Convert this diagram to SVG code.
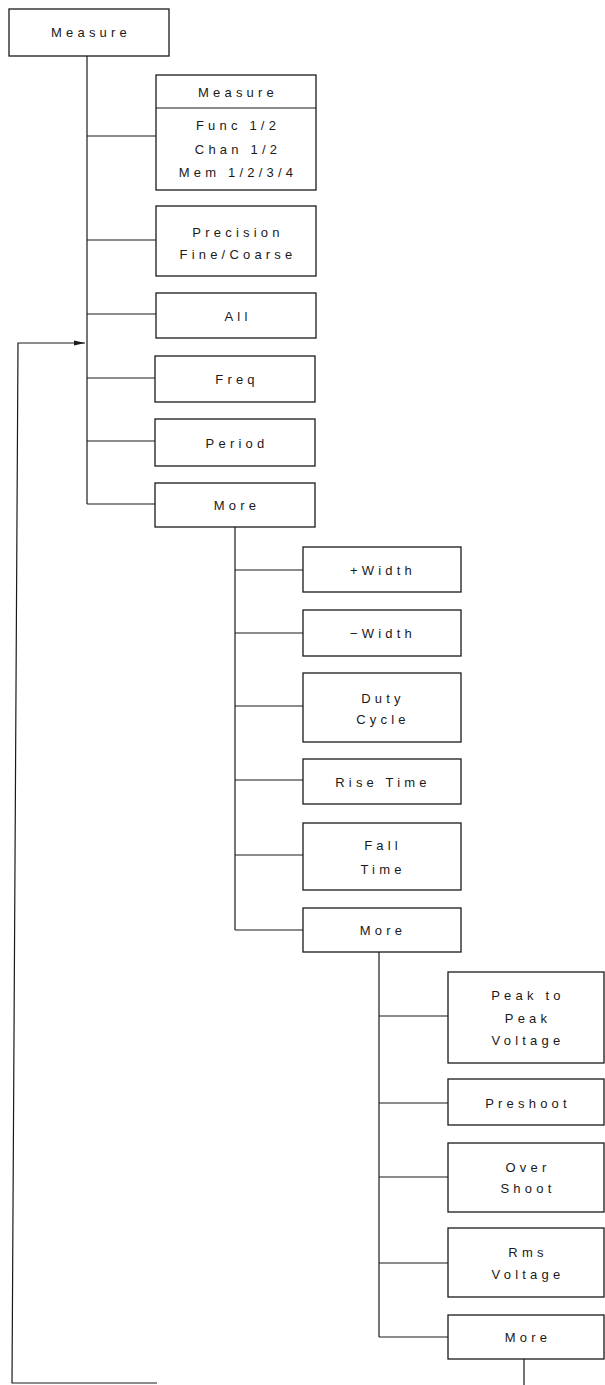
<svg xmlns="http://www.w3.org/2000/svg" width="605" height="1385" viewBox="0 0 605 1385">
<style>
rect.box{fill:#fff;stroke:#1a1a1a;stroke-width:1.3}
.c{fill:none;stroke:#1a1a1a;stroke-width:1.2}
text{font-family:"Liberation Sans",Arial,sans-serif;font-size:13px;letter-spacing:4.2px;fill:#1a1a1a;text-anchor:middle}
</style>
<defs>
<marker id="arr" markerWidth="12" markerHeight="8" refX="11" refY="4" orient="auto" markerUnits="userSpaceOnUse">
<path d="M0,1.5 L11,4 L0,6.5 Z" fill="#1a1a1a"/>
</marker>
</defs>
<rect width="605" height="1385" fill="#fff"/>
<g id="connectors">
<path class="c" d="M87,56 V504"/>
<path class="c" d="M87,136 H156 M87,240 H156 M87,314 H156 M87,378 H155 M87,441 H155 M87,504 H155"/>
<path class="c" d="M235,527 V930"/>
<path class="c" d="M235,570 H303 M235,633 H303 M235,706 H303 M235,780 H303 M235,855 H303 M235,930 H303"/>
<path class="c" d="M379,952 V1337"/>
<path class="c" d="M379,1016 H448 M379,1103 H448 M379,1177 H448 M379,1263 H448 M379,1337 H448"/>
<path class="c" d="M524,1359 V1385"/>
<path class="c" d="M157,1383 H12 L18,343 H85" marker-end="url(#arr)"/>
</g>
<g id="n-measure-root"><rect class="box" x="9" y="9" width="160" height="47"/><text x="91" y="37">Measure</text></g>
<g id="n-measure-src"><rect class="box" x="156" y="75" width="160" height="115"/><path class="c" d="M156,108 H316"/><text x="238" y="97">Measure</text><text x="238" y="130">Func 1/2</text><text x="238" y="154">Chan 1/2</text><text x="238" y="177">Mem 1/2/3/4</text></g>
<g id="n-precision"><rect class="box" x="156" y="206" width="160" height="70"/><text x="238" y="237">Precision</text><text x="238" y="259">Fine/Coarse</text></g>
<g id="n-all"><rect class="box" x="156" y="293" width="160" height="45"/><text x="238" y="321">All</text></g>
<g id="n-freq"><rect class="box" x="155" y="356" width="160" height="46"/><text x="237" y="384">Freq</text></g>
<g id="n-period"><rect class="box" x="155" y="419" width="160" height="47"/><text x="237" y="448">Period</text></g>
<g id="n-more1"><rect class="box" x="155" y="483" width="160" height="44"/><text x="237" y="510">More</text></g>
<g id="n-pwidth"><rect class="box" x="303" y="547" width="158" height="45"/><text x="383" y="575">+Width</text></g>
<g id="n-nwidth"><rect class="box" x="303" y="610" width="158" height="46"/><text x="383" y="638">−Width</text></g>
<g id="n-duty"><rect class="box" x="303" y="673" width="158" height="69"/><text x="383" y="703">Duty</text><text x="383" y="724">Cycle</text></g>
<g id="n-rise"><rect class="box" x="303" y="759" width="158" height="45"/><text x="383" y="787">Rise Time</text></g>
<g id="n-fall"><rect class="box" x="303" y="823" width="158" height="67"/><text x="383" y="850">Fall</text><text x="383" y="874">Time</text></g>
<g id="n-more2"><rect class="box" x="303" y="908" width="158" height="44"/><text x="383" y="935">More</text></g>
<g id="n-peak"><rect class="box" x="448" y="972" width="156" height="91"/><text x="528" y="1000">Peak to</text><text x="528" y="1023">Peak</text><text x="528" y="1045">Voltage</text></g>
<g id="n-preshoot"><rect class="box" x="448" y="1079" width="156" height="46"/><text x="528" y="1108">Preshoot</text></g>
<g id="n-overshoot"><rect class="box" x="448" y="1143" width="156" height="69"/><text x="528" y="1172">Over</text><text x="528" y="1193">Shoot</text></g>
<g id="n-rms"><rect class="box" x="448" y="1228" width="156" height="69"/><text x="528" y="1257">Rms</text><text x="528" y="1279">Voltage</text></g>
<g id="n-more3"><rect class="box" x="448" y="1315" width="156" height="44"/><text x="528" y="1342">More</text></g>
</svg>
